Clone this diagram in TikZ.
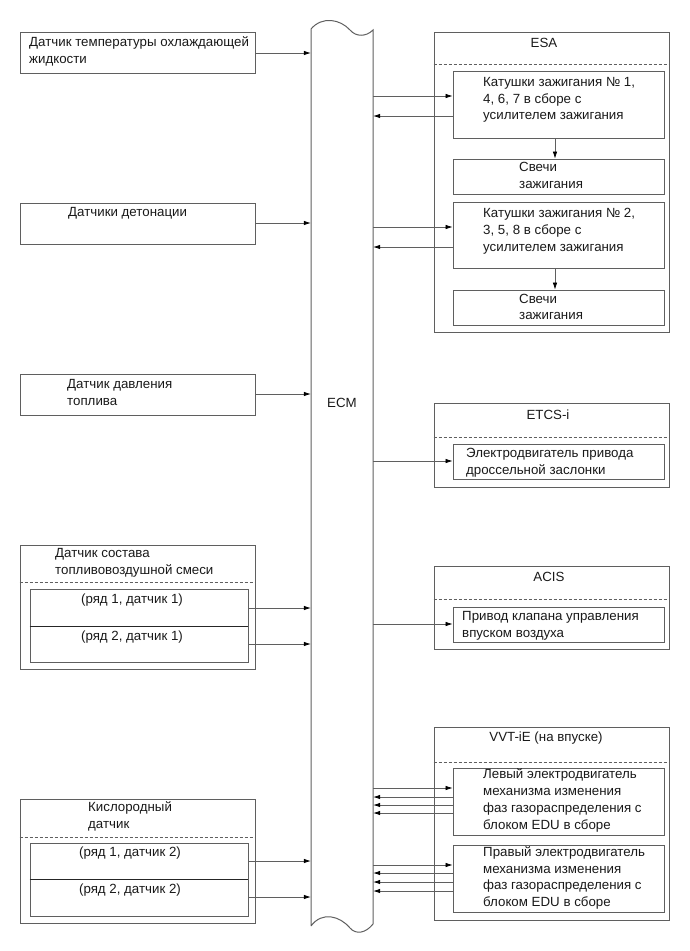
\documentclass[tikz,border=0pt]{standalone}
\usepackage{fontspec}
\setmainfont{Liberation Sans}
\usetikzlibrary{arrows.meta,fit}
\definecolor{lc}{RGB}{95,95,95}
\tikzset{
  box/.style={draw=lc, line width=0.8pt, rectangle, inner sep=0pt},
  sepline/.style={draw=black!85, line width=1pt},
  dashline/.style={draw=lc, line width=0.7pt, dash pattern=on 3pt off 2pt},
  txt/.style={inner sep=0pt, align=left, font=\fontsize{13.3}{16.8}\selectfont, text=black!90},
  arr/.style={draw=lc, line width=0.7pt, -{Latex[length=7pt,width=4.5pt,color=black]}},
  ecmline/.style={draw=lc, line width=1pt}
}
\begin{document}
\begin{tikzpicture}[x=1pt,y=-1pt]
\useasboundingbox (0,0) rectangle (689,951);
% ECM
\node[inner sep=0pt, minimum width=62pt, minimum height=895pt] (ecm) at (342,476.5) {};
\draw[ecmline] (311,926) -- (311,29) .. controls (322,16) and (340,19) .. (350,30)
  .. controls (356,37) and (366,37) .. (373,30) -- (373,924)
  .. controls (366,933) and (356,935) .. (350,928)
  .. controls (340,916) and (322,911) .. (311,926);
\node[txt] (ecmlabel) at (342,403) {ECM};
% Left sensors
\node[box, fit={(20,32) (255,73)}] (b1) {};
\node[txt, anchor=west] (t1) at (29,51) {Датчик температуры охлаждающей\\жидкости};
\draw[arr] (b1.east |- 0,53) -- (ecm.west |- 0,53);
\node[box, fit={(20,203) (255,244)}] (b2) {};
\node[txt, anchor=west] (t2) at (68,213) {Датчики детонации};
\draw[arr] (b2.east |- 0,223) -- (ecm.west |- 0,223);
\node[box, fit={(20,374) (255,415)}] (b3) {};
\node[txt, anchor=west] (t3) at (67,392.5) {Датчик давления\\топлива};
\draw[arr] (b3.east |- 0,394) -- (ecm.west |- 0,394);
% Air-fuel ratio sensor
\node[box, fit={(20,545) (255,669)}] (b4) {};
\draw[dashline] (b4.west |- 0,582) -- (b4.east |- 0,582);
\node[txt, anchor=west] (t4) at (55,562.5) {Датчик состава\\топливовоздушной смеси};
\node[box, fit={(30,589) (248,662)}] (b4i) {};
\draw[sepline] (b4i.west |- 0,626) -- (b4i.east |- 0,626);
\node[txt] (t4a) at (132,600) {(ряд 1, датчик 1)};
\node[txt] (t4b) at (132,637) {(ряд 2, датчик 1)};
\draw[arr] (b4i.east |- 0,608) -- (ecm.west |- 0,608);
\draw[arr] (b4i.east |- 0,644) -- (ecm.west |- 0,644);
% Oxygen sensor
\node[box, fit={(20,799) (255,923)}] (b5) {};
\draw[dashline] (b5.west |- 0,837) -- (b5.east |- 0,837);
\node[txt, anchor=west] (t5) at (88,816.5) {Кислородный\\датчик};
\node[box, fit={(30,843) (248,916)}] (b5i) {};
\draw[sepline] (b5i.west |- 0,879) -- (b5i.east |- 0,879);
\node[txt] (t5a) at (130,853) {(ряд 1, датчик 2)};
\node[txt] (t5b) at (130,890) {(ряд 2, датчик 2)};
\draw[arr] (b5i.east |- 0,861) -- (ecm.west |- 0,861);
\draw[arr] (b5i.east |- 0,897) -- (ecm.west |- 0,897);
% ESA
\node[box, fit={(434,32) (669,332)}] (esa) {};
\draw[dashline] (esa.west |- 0,64) -- (esa.east |- 0,64);
\node[txt] (esat) at (544,43) {ESA};
\node[box, fit={(453,71) (664,138)}] (c1) {};
\node[txt, anchor=west] (c1t) at (483,100) {Катушки зажигания № 1,\\4, 6, 7 в сборе с\\усилителем зажигания};
\node[box, fit={(453,159) (664,194)}] (s1) {};
\node[txt, anchor=west] (s1t) at (519,175.5) {Свечи\\зажигания};
\node[box, fit={(453,202) (664,268)}] (c2) {};
\node[txt, anchor=west] (c2t) at (483,231) {Катушки зажигания № 2,\\3, 5, 8 в сборе с\\усилителем зажигания};
\node[box, fit={(453,290) (664,325)}] (s2) {};
\node[txt, anchor=west] (s2t) at (519,307) {Свечи\\зажигания};
\draw[arr] (ecm.east |- 0,96) -- (c1.west |- 0,96);
\draw[arr] (c1.west |- 0,116) -- (ecm.east |- 0,116);
\draw[arr] (ecm.east |- 0,227) -- (c2.west |- 0,227);
\draw[arr] (c2.west |- 0,247) -- (ecm.east |- 0,247);
\draw[arr] (c1.south -| 555,0) -- (s1.north -| 555,0);
\draw[arr] (c2.south -| 555,0) -- (s2.north -| 555,0);
% ETCS-i
\node[box, fit={(434,403) (669,487)}] (etcs) {};
\draw[dashline] (etcs.west |- 0,437) -- (etcs.east |- 0,437);
\node[txt] (etcst) at (548,415) {ETCS-i};
\node[box, fit={(453,444) (664,479)}] (thr) {};
\node[txt, anchor=west] (thrt) at (466,462.5) {Электродвигатель привода\\дроссельной заслонки};
\draw[arr] (ecm.east |- 0,461) -- (thr.west |- 0,461);
% ACIS
\node[box, fit={(434,566) (669,649)}] (acis) {};
\draw[dashline] (acis.west |- 0,599) -- (acis.east |- 0,599);
\node[txt] (acist) at (549,577) {ACIS};
\node[box, fit={(453,607) (664,642)}] (acv) {};
\node[txt, anchor=west] (acvt) at (462,626) {Привод клапана управления\\впуском воздуха};
\draw[arr] (ecm.east |- 0,624) -- (acv.west |- 0,624);
% VVT-iE
\node[box, fit={(434,727) (669,920)}] (vvt) {};
\draw[dashline] (vvt.west |- 0,762) -- (vvt.east |- 0,762);
\node[txt] (vvtt) at (546,738) {VVT-iE (на впуске)};
\node[box, fit={(453,768) (664,835)}] (m1) {};
\node[txt, anchor=west] (m1t) at (483,800.5) {Левый электродвигатель\\механизма изменения\\фаз газораспределения с\\блоком EDU в сборе};
\node[box, fit={(453,845) (664,912)}] (m2) {};
\node[txt, anchor=west] (m2t) at (483,878) {Правый электродвигатель\\механизма изменения\\фаз газораспределения с\\блоком EDU в сборе};
\draw[arr] (ecm.east |- 0,788) -- (m1.west |- 0,788);
\draw[arr] (m1.west |- 0,797) -- (ecm.east |- 0,797);
\draw[arr] (m1.west |- 0,805) -- (ecm.east |- 0,805);
\draw[arr] (m1.west |- 0,813) -- (ecm.east |- 0,813);
\draw[arr] (ecm.east |- 0,865) -- (m2.west |- 0,865);
\draw[arr] (m2.west |- 0,873) -- (ecm.east |- 0,873);
\draw[arr] (m2.west |- 0,882) -- (ecm.east |- 0,882);
\draw[arr] (m2.west |- 0,891) -- (ecm.east |- 0,891);
\end{tikzpicture}
\end{document}
